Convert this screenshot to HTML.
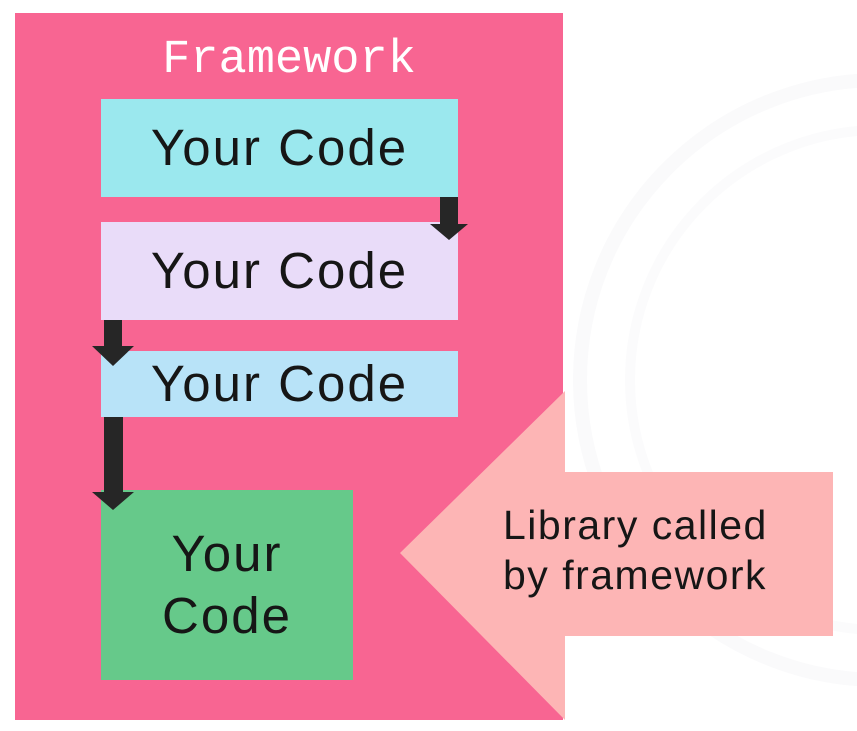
<!DOCTYPE html>
<html><head><meta charset="utf-8"><style>
body{margin:0;width:857px;height:731px;background:#fff;overflow:hidden;position:relative;font-family:"Liberation Sans","DejaVu Sans",sans-serif}
.a{position:absolute}
.box{position:absolute;display:flex;align-items:center;justify-content:center;color:#161616;font-size:51px;letter-spacing:2px;text-align:center;line-height:1.2}
</style></head><body>
<svg class="a" style="left:0;top:0" width="857" height="731">
<circle cx="880" cy="380" r="300" fill="none" stroke="#fafafb" stroke-width="14"/>
<circle cx="880" cy="380" r="250" fill="none" stroke="#fbfbfc" stroke-width="10"/>
<rect x="15" y="13" width="548" height="707" fill="#f86592"/>
<polygon points="400,553 565,391 565,472 833,472 833,636 565,636 565,720" fill="#fdb5b5"/>
</svg>
<div class="a" style="left:15px;width:548px;top:33px;text-align:center;color:#fff;font-family:'Liberation Mono',monospace;font-size:47px;line-height:56px">Framework</div>
<div class="box" style="left:101px;top:99px;width:357px;height:98px;background:#9be8ee">Your Code</div>
<div class="box" style="left:101px;top:222px;width:357px;height:98px;background:#e9dcf9">Your Code</div>
<div class="box" style="left:101px;top:351px;width:357px;height:66px;background:#b8e3f8">Your Code</div>
<div class="box" style="left:101px;top:490px;width:252px;height:190px;background:#66c98a;line-height:62px">Your<br>Code</div>
<svg class="a" style="left:0;top:0" width="857" height="731">
<g fill="#262626">
<rect x="440" y="197" width="18" height="28"/><polygon points="430,224 468,224 449,240"/>
<rect x="104" y="320" width="18" height="28"/><polygon points="92,346 134,346 113,366"/>
<rect x="104" y="417" width="19" height="76"/><polygon points="92,492 134,492 113,510"/>
</g>
</svg>
<div class="a" style="left:503px;top:500px;color:#161616;font-size:41px;letter-spacing:1.5px;line-height:50px">Library called<br>by framework</div>
</body></html>
